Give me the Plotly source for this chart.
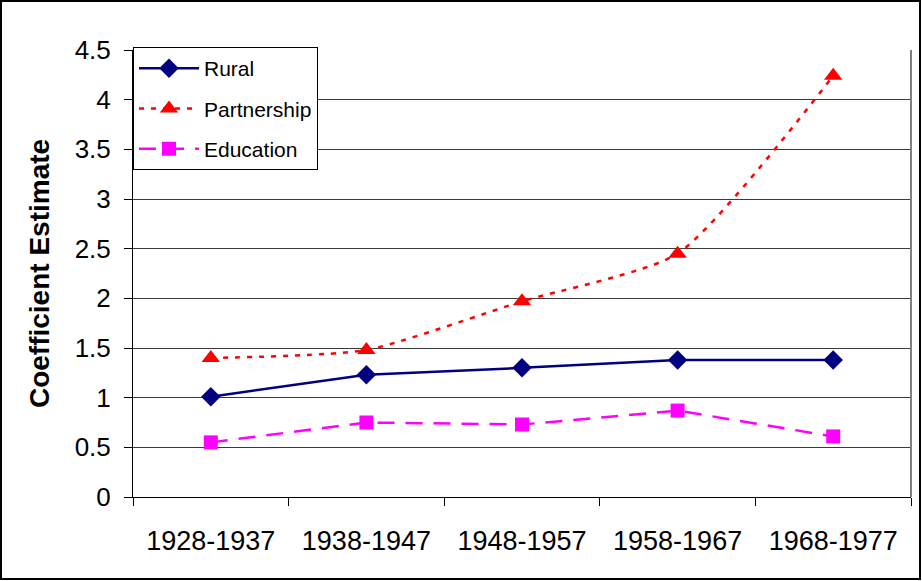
import plotly.graph_objects as go

# Decades (categories) and coefficient estimates
periods = ["1928-1937", "1938-1947", "1948-1957", "1958-1967", "1968-1977"]
rural = [1.01, 1.23, 1.30, 1.38, 1.38]
partnership = [1.40, 1.48, 1.97, 2.45, 4.24]
education = [0.55, 0.75, 0.73, 0.87, 0.61]
y_ticks = [0, 0.5, 1, 1.5, 2, 2.5, 3, 3.5, 4, 4.5]

font = "Liberation Sans, Arial, sans-serif"

fig = go.Figure()
fig.add_trace(go.Scatter(
    x=periods, y=rural, name="Rural", mode="lines+markers", legendgroup="a",
    line=dict(color="#000080", width=2.5),
    marker=dict(symbol="diamond", size=15, color="#000080"),
))
fig.add_trace(go.Scatter(
    x=periods, y=partnership, name="Partnership", mode="lines+markers", legendgroup="b",
    line=dict(color="#FF0000", width=2.5, dash="5px,7px", shape="spline", smoothing=0.6),
    marker=dict(symbol="triangle-up", size=16, color="#FF0000"),
))
fig.add_trace(go.Scatter(
    x=periods, y=education, name="Education", mode="lines+markers", legendgroup="c",
    line=dict(color="#FF00FF", width=2.5, dash="17px,11px"),
    marker=dict(symbol="square", size=14, color="#FF00FF"),
))

pw, ph = 922 - 133 - 11, 581 - 50 - 84

fig.update_layout(
    width=922, height=581,
    margin=dict(l=133, r=11, t=50, b=84),
    paper_bgcolor="white", plot_bgcolor="white",
    font=dict(family=font, size=26, color="black"),
    showlegend=True,
    legend=dict(
        x=0, y=1 + 3 / ph, xanchor="left", yanchor="top",
        bgcolor="white", bordercolor="black", borderwidth=1,
        font=dict(size=21), tracegroupgap=10, itemwidth=60,
    ),
    xaxis=dict(
        type="category", range=[-0.5, 4.5], showgrid=False,
        showline=True, linecolor="black", linewidth=1,
        ticks="outside", tickson="boundaries", ticklen=8, tickcolor="black",
        tickfont=dict(size=27), ticklabelstandoff=20,
    ),
    yaxis=dict(
        range=[0, 4.5], tickvals=y_ticks, ticktext=[f"{v:g}" for v in y_ticks],
        showgrid=True, gridcolor="#3a3a3a", gridwidth=1,
        showline=True, linecolor="black", linewidth=1,
        ticks="outside", ticklen=8, tickcolor="black", ticklabelstandoff=8,
        tickfont=dict(size=26), zeroline=False,
        title=dict(text="<b>Coefficient Estimate</b>", font=dict(size=28), standoff=16),
    ),
    shapes=[
        # right edge of plot area
        dict(type="line", xref="paper", yref="paper", x0=1, x1=1, y0=0, y1=1,
             line=dict(color="#808080", width=2)),
        # outer border of the whole chart
        dict(type="rect", xref="paper", yref="paper",
             x0=-132 / pw, x1=1 + 9 / pw, y0=-82 / ph, y1=1 + 49 / ph,
             line=dict(color="black", width=2)),
    ],
)

fig.write_html("out.html", config={"displayModeBar": False},
               post_script="document.body.style.margin='0';")
